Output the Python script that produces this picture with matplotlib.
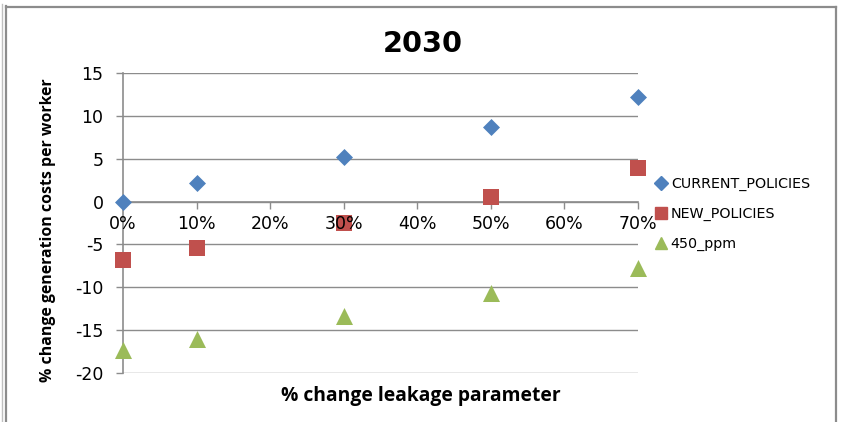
import matplotlib
matplotlib.use("Agg")
import matplotlib.pyplot as plt
from matplotlib.lines import Line2D
from matplotlib.ticker import FuncFormatter, MultipleLocator

leakage = [0.0, 0.1, 0.3, 0.5, 0.7]
current_policies = [0.0, 2.15, 5.25, 8.65, 12.25]
new_policies = [-6.8, -5.45, -2.5, 0.55, 3.9]
ppm_450 = [-17.3, -16.05, -13.4, -10.7, -7.8]
series_names = ["CURRENT_POLICIES", "NEW_POLICIES", "450_ppm"]

plt.rcParams['font.family'] = ['DejaVu Sans']
plt.rcParams['axes.unicode_minus'] = False

fig = plt.figure(figsize=(8.46, 4.22), dpi=100)
W, H = 846, 422
rect = [123 / W, 1 - 373 / H, (638 - 123) / W, (373 - 73) / H]
ax = fig.add_axes(rect)

grey = '#8c8c8c'
fig.add_artist(Line2D([6 / W, 6 / W], [0, 1 - 6 / H], transform=fig.transFigure, color=grey, lw=1.6))
fig.add_artist(Line2D([2 / W, 2 / W], [0, 1 - 4 / H], transform=fig.transFigure, color='#bfbfbf', lw=1.0))
fig.add_artist(Line2D([6 / W, 836 / W], [1 - 7 / H, 1 - 7 / H], transform=fig.transFigure, color=grey, lw=1.6))
fig.add_artist(Line2D([836 / W, 836 / W], [0, 1 - 7 / H], transform=fig.transFigure, color=grey, lw=1.6))

colors = ['#4F81BD', '#C0504D', '#9BBB59']
markers = ['D', 's', '^']
sizes = [75, 140, 150]
for vals, c, m, s, name in zip([current_policies, new_policies, ppm_450], colors, markers, sizes, series_names):
    ax.scatter(leakage, vals, marker=m, s=s, color=c, label=name, zorder=3, linewidths=0, clip_on=False)

fmt = FuncFormatter(lambda v, p: f"{v*100:.0f}%")
ax.set_xlim(0, 0.7)
ax.set_ylim(-20, 15)
ax.yaxis.set_major_locator(MultipleLocator(5))
ax.xaxis.set_major_locator(MultipleLocator(0.1))
ax.grid(axis='y', color=grey, lw=1.0)
ax.set_axisbelow(True)
for side in ['top', 'right']:
    ax.spines[side].set_visible(False)
ax.spines['bottom'].set_position(('data', 0))
for side in ['bottom', 'left']:
    ax.spines[side].set_color(grey)
    ax.spines[side].set_linewidth(1.2)
ax.tick_params(axis='both', colors=grey, labelcolor='black', labelsize=12.5, length=5, width=1)
ax.tick_params(axis='x', labelbottom=False)
ax.tick_params(axis='y', pad=9)

# overlay axes that carries the x tick labels above the markers
ax2 = fig.add_axes(rect, sharex=ax)
ax2.set_ylim(-20, 15)
ax2.patch.set_visible(False)
for side in ['top', 'right', 'left']:
    ax2.spines[side].set_visible(False)
ax2.spines['bottom'].set_position(('data', 0))
ax2.spines['bottom'].set_visible(False)
ax2.set_yticks([])
ax2.xaxis.set_major_locator(MultipleLocator(0.1))
ax2.xaxis.set_major_formatter(fmt)
ax2.tick_params(axis='x', length=0, labelsize=12.5, pad=10)

renderer = fig.canvas.get_renderer()


def fitted_text(x, y, s, target_w, rotation=0, **kw):
    t = fig.text(x / W, 1 - y / H, s, ha='center', va='center', rotation=rotation, **kw)
    for _ in range(3):
        bb = t.get_window_extent(renderer)
        w = bb.height if rotation else bb.width
        t.set_fontsize(t.get_fontsize() * target_w / w)
    return t


fitted_text(423, 44, "2030", 80, family='DejaVu Sans', fontweight='bold', fontsize=20)
fitted_text(48, 230, "% change generation costs per worker", 305, rotation=90, family='Open Sans',
            fontweight='bold', fontsize=12)
fitted_text(421, 396, "% change leakage parameter", 277, family='Open Sans', fontweight='bold', fontsize=12)

handles = [Line2D([], [], marker=m, color=c, ls='', markersize=ms) for m, c, ms in zip(markers, colors, [7, 9, 9])]
fig.legend(handles, series_names, loc='center left', bbox_to_anchor=(645 / W, 1 - 214 / H), frameon=False,
           fontsize=10.3, handletextpad=0.1, labelspacing=1.1, handlelength=1.2, borderpad=0)

fig.savefig("out.png", dpi=100)
